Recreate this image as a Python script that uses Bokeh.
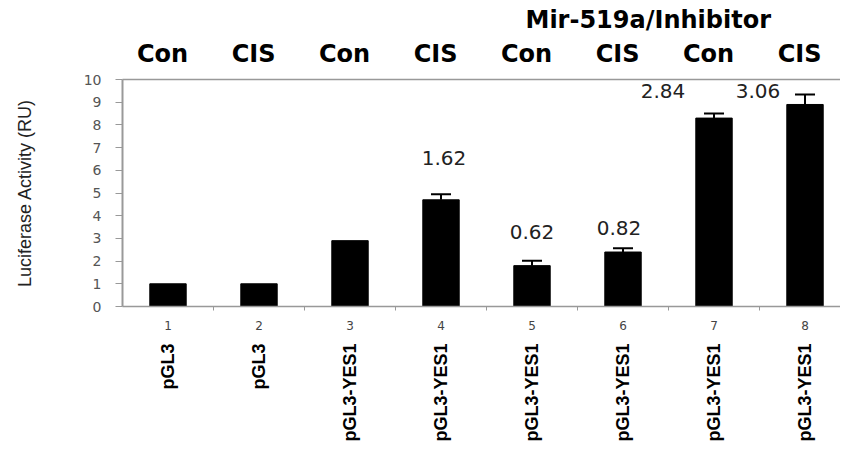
from math import pi
from bokeh.plotting import figure
from bokeh.models import (Range1d, LinearAxis, FixedTicker, Whisker, TeeHead,
                          ColumnDataSource, LabelSet, Title)
from bokeh.core.properties import value
from bokeh.embed import file_html
from bokeh.resources import INLINE

# ---- data -------------------------------------------------------------
positions = [1, 2, 3, 4, 5, 6, 7, 8]
index_labels = ["1", "2", "3", "4", "5", "6", "7", "8"]
constructs = ["pGL3", "pGL3", "pGL3-YES1", "pGL3-YES1",
              "pGL3-YES1", "pGL3-YES1", "pGL3-YES1", "pGL3-YES1"]
treatments = ["Con", "CIS", "Con", "CIS", "Con", "CIS", "Con", "CIS"]
activity = [1.0, 1.0, 2.9, 4.7, 1.8, 2.4, 8.3, 8.9]
error = [0.0, 0.0, 0.0, 0.25, 0.22, 0.17, 0.2, 0.44]
fold_labels = ["1.62", "0.62", "0.82", "2.84", "3.06"]
fold_bars = [4, 5, 6, 7, 8]
group_title = "Mir-519a/Inhibitor"
y_ticks = [0, 1, 2, 3, 4, 5, 6, 7, 8, 9, 10]

# ---- styles / placement ----------------------------------------------
fold_y = [6.52, 3.30, 3.44, 9.5, 9.5]
fold_dx = [3, 0, -4, -51, -47]

W, H = 840, 445
p = figure(width=W, height=H, output_backend="svg", toolbar_location=None,
           x_range=Range1d(0.5, 8.39), y_range=Range1d(0, 10),
           min_border_left=122, min_border_right=0, min_border_top=79,
           min_border_bottom=139, outline_line_color=None,
           background_fill_color="white", border_fill_color="white")
p.grid.visible = False

src = ColumnDataSource(dict(x=positions, top=activity))
p.vbar(x="x", top="top", width=0.4, source=src, color="black")

ex = [x for x, e in zip(positions, error) if e > 0]
ev = [v for v, e in zip(activity, error) if e > 0]
eu = [v + e for v, e in zip(activity, error) if e > 0]
esrc = ColumnDataSource(dict(x=ex, lower=ev, upper=eu))
p.add_layout(Whisker(source=esrc, base="x", lower="lower", upper="upper",
                     line_color="black", line_width=2,
                     upper_head=TeeHead(size=20, line_color="black", line_width=2),
                     lower_head=None))

# axes
ax = p.xaxis[0]
ax.ticker = FixedTicker(ticks=positions, minor_ticks=[1.5, 2.5, 3.5, 4.5, 5.5, 6.5, 7.5])
ax.major_label_overrides = {x: t for x, t in zip(positions, index_labels)}
ax.major_tick_line_color = None
ax.minor_tick_out = 4
ax.minor_tick_in = 0
ax.minor_tick_line_color = "#999999"
ax.axis_line_color = "#999999"
ax.axis_line_width = 1.5
ax.major_label_text_font = "DejaVu Sans"
ax.major_label_text_font_size = "12px"
ax.major_label_text_color = "#444444"
ax.major_label_standoff = 8

# construct names, rotated, on a second axis below the numbers
names = LinearAxis(ticker=FixedTicker(ticks=positions),
                   major_label_overrides={x: t for x, t in zip(positions, constructs)})
names.major_label_orientation = pi / 2
names.axis_line_color = None
names.major_tick_line_color = None
names.minor_tick_line_color = None
names.major_label_standoff = 5
names.major_label_text_font = "Liberation Sans"
names.major_label_text_font_style = "bold"
names.major_label_text_font_size = "18px"
names.major_label_text_color = "black"
p.add_layout(names, "below")

ay = p.yaxis[0]
ay.ticker = FixedTicker(ticks=y_ticks)
ay.minor_tick_line_color = None
ay.major_tick_out = 7
ay.major_tick_in = 0
ay.major_tick_line_color = "#999999"
ay.axis_line_color = "#999999"
ay.axis_line_width = 2
ay.major_label_text_font = "DejaVu Sans"
ay.major_label_text_font_size = "14px"
ay.major_label_text_color = "#555555"
ay.major_label_standoff = 14
ay.axis_label = "Luciferase Activity (RU)"
ay.axis_label_text_font = "Liberation Sans"
ay.axis_label_text_font_style = "normal"
ay.axis_label_text_font_size = "18px"
ay.axis_label_text_color = "#222222"
ay.axis_label_standoff = 46

p.extra_x_ranges = {"top": Range1d(0.56, 8.45)}
top = LinearAxis(x_range_name="top", ticker=FixedTicker(ticks=positions),
                 major_label_overrides={x: t for x, t in zip(positions, treatments)})
top.major_tick_line_color = None
top.minor_tick_line_color = None
top.axis_line_color = "#999999"
top.axis_line_width = 1.5
top.major_label_text_font = "DejaVu Sans"
top.major_label_text_font_style = "bold"
top.major_label_text_font_size = "24px"
top.major_label_text_color = "black"
top.major_label_standoff = 6
p.add_layout(top, "above")

p.add_layout(Title(text=group_title, align="left", offset=403,
                   text_font="DejaVu Sans", text_font_style="bold",
                   text_font_size="24px", text_color="black", standoff=6), "above")

# fold-change numbers
fsrc = ColumnDataSource(dict(x=fold_bars, y=fold_y, t=fold_labels, dx=fold_dx))
p.add_layout(LabelSet(x="x", y="y", text="t", x_offset="dx", source=fsrc,
                      text_align="center", text_baseline="middle",
                      text_font=value("DejaVu Sans"), text_font_size="20px",
                      text_color="#222222"))

open("out.html", "w").write(file_html(p, INLINE))
